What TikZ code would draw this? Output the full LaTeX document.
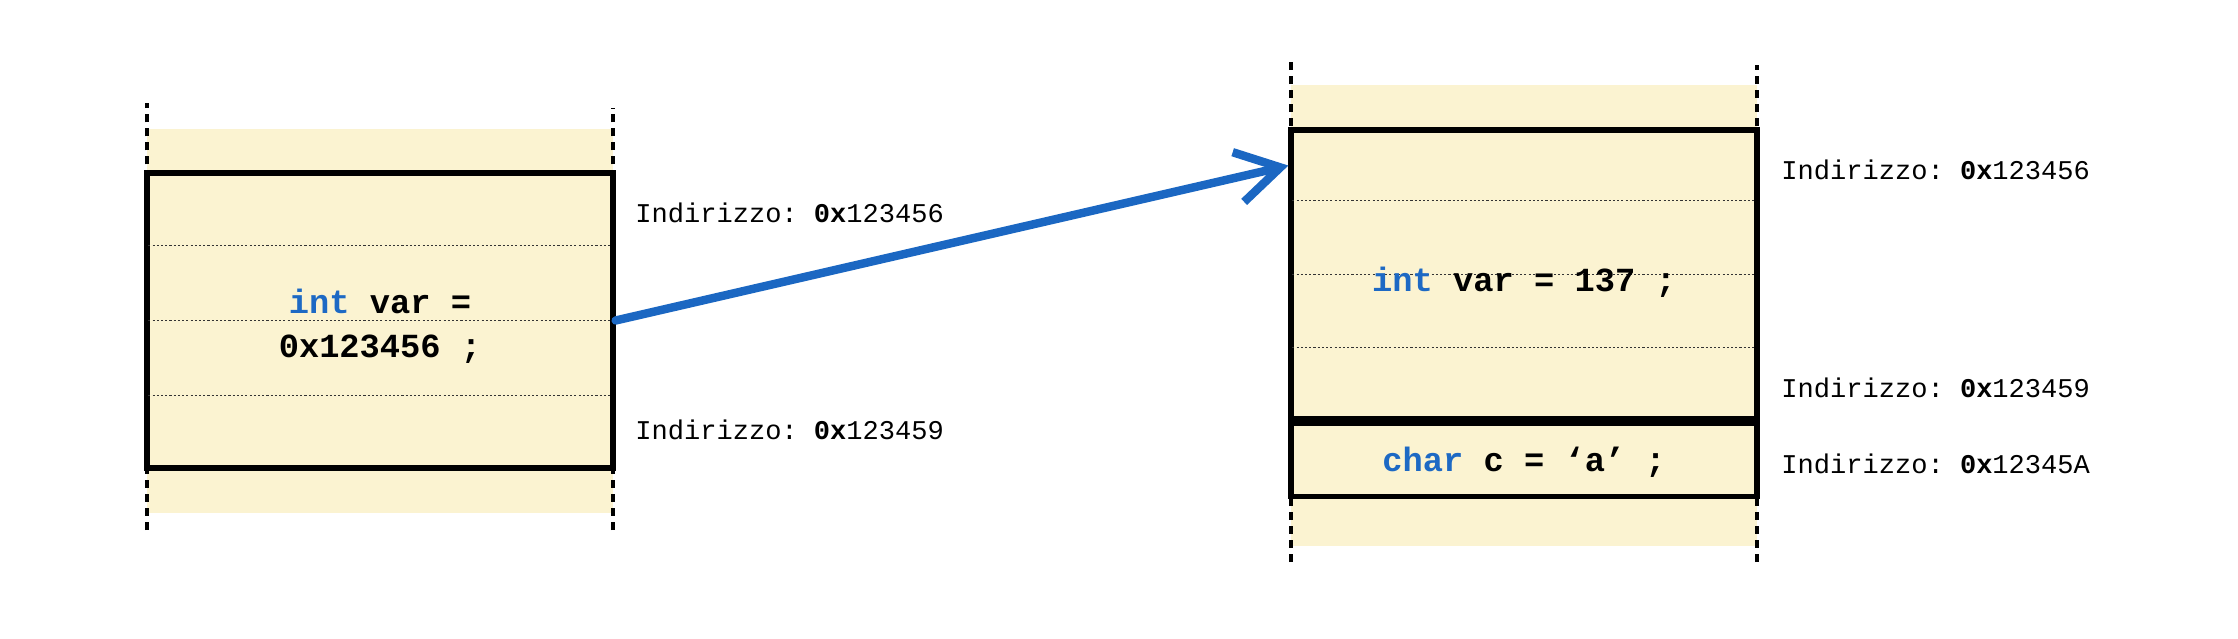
\documentclass[tikz,border=0pt]{standalone}
\usepackage{fontspec}
\setmonofont{Liberation Mono}
\usetikzlibrary{arrows.meta,positioning,calc}
\definecolor{memfill}{HTML}{FBF3D1}
\definecolor{kwblue}{HTML}{1D69C4}
\definecolor{arrowblue}{HTML}{1B67C2}
\newcommand{\kw}[1]{\textcolor{kwblue}{#1}}

\begin{document}
\begin{tikzpicture}[
cell/.style={draw,line width=1.5pt,fill=memfill,minimum width=4.66cm,inner sep=0pt},
code/.style={align=center,inner sep=0pt,font=\ttfamily\bfseries\fontsize{9.6}{12.5}\selectfont},
strip/.style={fill=memfill},
edge/.style={line width=1.2pt,dash pattern=on 2.3pt off 1.7pt},
dotline/.style={line width=0.35pt,dash pattern=on 0.6pt off 0.6pt,black!80},
addr/.style={inner sep=0pt,font=\ttfamily\fontsize{7.7}{9}\selectfont},
ptr/.style={-{Straight Barb[length=4.3mm,width=5.1mm]},line width=2.4pt,line cap=round,arrowblue}]
\useasboundingbox (0,0) rectangle (22.38,6.38);
% memory strips
\fill[strip] (1.47,1.25) rectangle (6.13,5.09);
\fill[strip] (12.91,0.92) rectangle (17.57,5.525);
\draw[edge] (1.47,1.08) -- (1.47,5.35);
\draw[edge] (6.13,1.08) -- (6.13,5.30);
\draw[edge] (12.91,0.76) -- (12.91,5.78);
\draw[edge] (17.57,0.76) -- (17.57,5.73);
% variables
\node[cell,minimum height=2.95cm] (ptrvar) at (3.80,3.175) {};
\node[cell,minimum height=2.885cm] (intvar) at (15.24,3.6375) {};
\node[cell,minimum height=0.725cm,below=0pt of intvar] (charvar) {};
\foreach \f in {0.25,0.5,0.75}{
  \draw[dotline] ($(ptrvar.north west)!\f!(ptrvar.south west)+(0.04,0)$) -- ($(ptrvar.north east)!\f!(ptrvar.south east)+(-0.04,0)$);
  \draw[dotline] ($(intvar.north west)!\f!(intvar.south west)+(0.04,0)$) -- ($(intvar.north east)!\f!(intvar.south east)+(-0.04,0)$);
}
\node[code] (ptrtext) at ([yshift=-0.06cm]ptrvar.center) {\kw{int} var =\\0x123456 ;};
\node[code] (inttext) at ([yshift=-0.08cm]intvar.center) {\kw{int} var = 137 ;};
\node[code] (chartext) at ([yshift=-0.02cm]charvar.center) {\kw{char} c = ‘a’ ;};
% addresses
\node[addr,right=0.19cm of ptrvar.north east,yshift=-0.43cm] (addrA) {Indirizzo: \textbf{0x}123456};
\node[addr,right=0.19cm of ptrvar.south east,yshift=0.41cm] (addrB) {Indirizzo: \textbf{0x}123459};
\node[addr,right=0.21cm of intvar.north east,yshift=-0.43cm] (addrC) {Indirizzo: \textbf{0x}123456};
\node[addr,right=0.21cm of intvar.south east,yshift=0.335cm] (addrD) {Indirizzo: \textbf{0x}123459};
\node[addr,right=0.21cm of charvar.east,yshift=-0.04cm] (addrE) {Indirizzo: \textbf{0x}12345A};
% pointer
\draw[ptr] (ptrvar.east) -- ($(intvar.north west)!0.13!(intvar.south west)$);
\end{tikzpicture}
\end{document}
